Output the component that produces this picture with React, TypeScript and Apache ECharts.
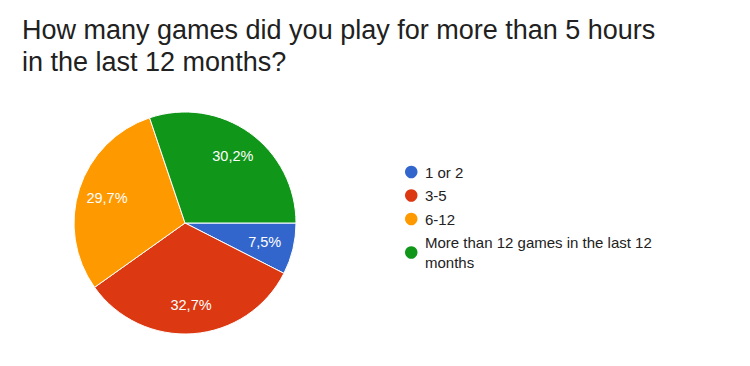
import React, { useEffect, useRef } from "react";
import * as echarts from "echarts";

const titleLines = ["How many games did you play for more than 5 hours", "in the last 12 months?"];
const categories = ["1 or 2", "3-5", "6-12", "More than 12 games in the last 12 months"];
const percents = [7.5, 32.7, 29.7, 30.2];
const colors = ["#3366cc", "#dc3912", "#ff9900", "#109618"];

export default function App() {
  const ref = useRef<HTMLDivElement>(null);
  useEffect(() => {
    if (!ref.current) return;
    const chart = echarts.init(ref.current, null, { renderer: "svg" });
    const font = "Arial, 'Liberation Sans', sans-serif";
    const data = categories.map((name, i) => ({
      name,
      value: percents[i],
      itemStyle: { color: colors[i] },
    }));
    chart.setOption({
      animation: false,
      backgroundColor: "#ffffff",
      title: {
        text: titleLines.join("\n"),
        left: 22,
        top: 14,
        padding: 0,
        textStyle: {
          fontFamily: font,
          fontSize: 27,
          fontWeight: "normal",
          color: "#212121",
          lineHeight: 32,
        },
      },
      legend: {
        orient: "vertical",
        left: 405,
        top: 162,
        padding: 0,
        itemGap: 3.5,
        itemWidth: 12.5,
        itemHeight: 12.5,
        icon: "circle",
        itemStyle: { borderWidth: 0 },
        data: categories,
        selectedMode: false,
        textStyle: {
          fontFamily: font,
          fontSize: 15,
          color: "#222222",
          lineHeight: 20,
          width: 250,
          overflow: "break",
          padding: [0, 0, 0, 2.5],
        },
      },
      series: [
        {
          type: "pie",
          center: [185, 223],
          radius: 111,
          startAngle: 0,
          clockwise: true,
          silent: true,
          label: { show: false },
          labelLine: { show: false },
          itemStyle: { borderColor: "#ffffff", borderWidth: 1 },
          data,
        },
        {
          type: "pie",
          center: [185, 223],
          radius: [47, 111],
          startAngle: 0,
          clockwise: true,
          silent: true,
          legendHoverLink: false,
          itemStyle: { color: "rgba(0,0,0,0)", borderWidth: 0 },
          label: {
            show: true,
            position: "inside",
            color: "#ffffff",
            fontFamily: font,
            fontSize: 14.5,
            formatter: (p: any) => `${Number(p.value).toFixed(1).replace(".", ",")}%`,
          },
          labelLine: { show: false },
          data: categories.map((name, i) => ({ name, value: percents[i] })),
        },
      ],
    });
    return () => chart.dispose();
  }, []);
  return (
    <div
      ref={ref}
      style={{ position: "fixed", left: 0, top: 0, width: 750, height: 366 }}
    />
  );
}
